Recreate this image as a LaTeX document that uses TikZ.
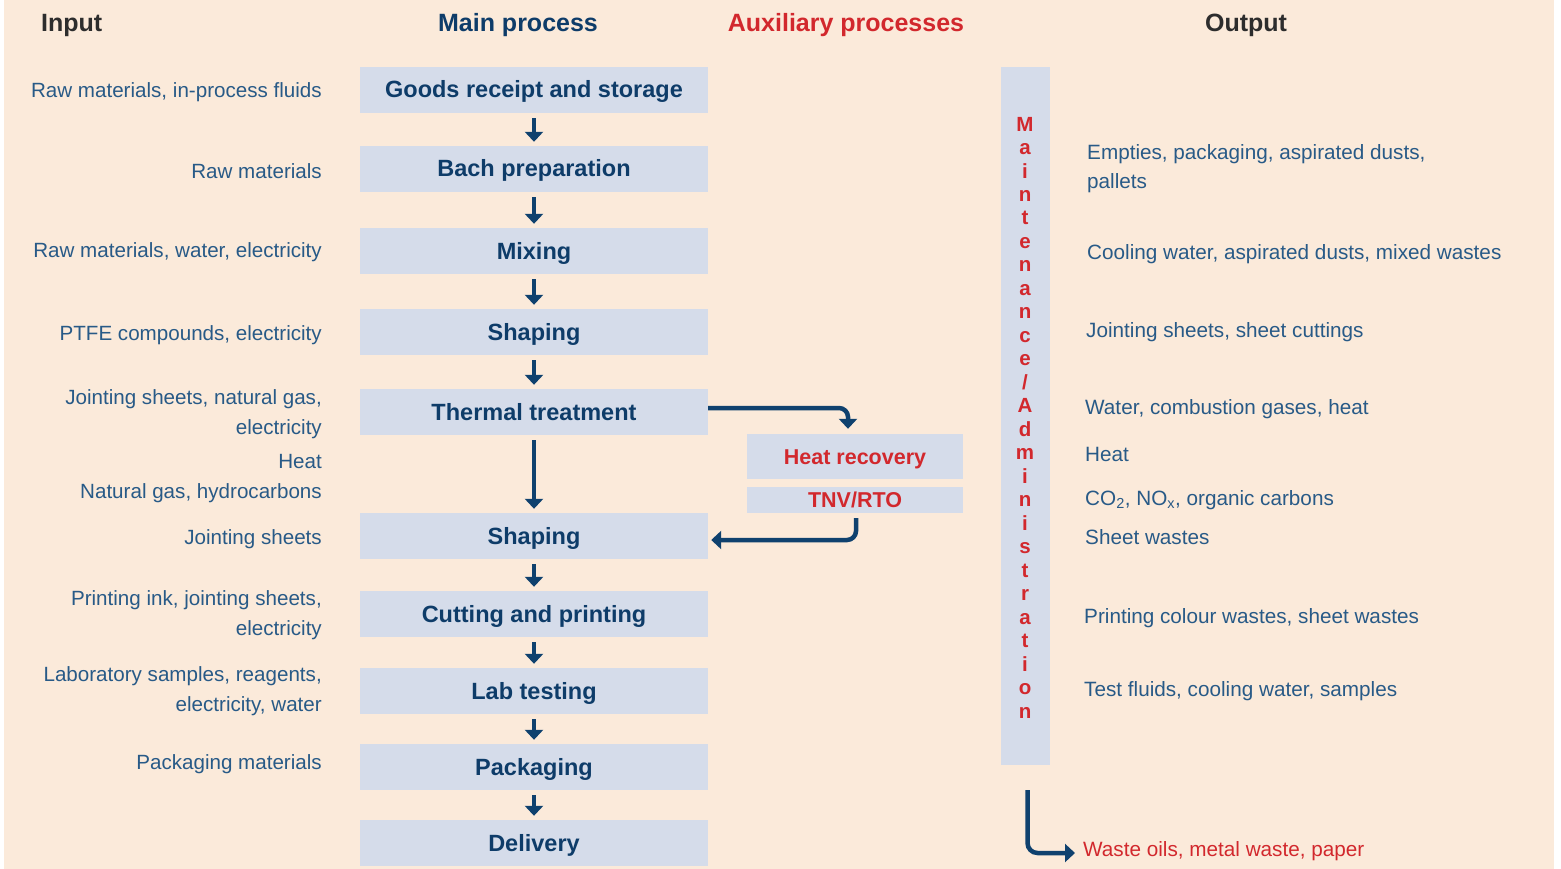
\documentclass[tikz,border=0pt]{standalone}
\usepackage{fontspec}
\setmainfont{Liberation Sans}
\usetikzlibrary{arrows.meta}
\definecolor{bg}{RGB}{251,234,218}
\definecolor{boxfill}{RGB}{213,220,234}
\definecolor{navy}{RGB}{14,60,105}
\definecolor{arrowc}{RGB}{15,65,110}
\definecolor{txtblue}{RGB}{40,90,135}
\definecolor{redc}{RGB}{210,40,45}
\definecolor{headgrey}{RGB}{45,45,45}
\tikzset{
  box/.style={fill=boxfill, minimum width=348pt, minimum height=46pt, inner sep=0pt,
    text height=17pt, text depth=1pt,
    font=\bfseries\fontsize{23.5}{26}\selectfont, text=navy},
  auxbox/.style={fill=boxfill, minimum width=216pt, inner sep=0pt,
    font=\bfseries\fontsize{21.5}{24}\selectfont, text=redc},
  flow/.style={draw=arrowc, line width=4.5pt, -{Triangle[width=18pt,length=10pt]}},
  intxt/.style={anchor=east, align=right, text=txtblue, font=\fontsize{20.6}{30}\selectfont, inner sep=0pt},
  outtxt/.style={anchor=west, align=left, text=txtblue, font=\fontsize{20.7}{29}\selectfont, inner sep=0pt},
  head/.style={font=\bfseries\fontsize{25}{28}\selectfont, inner sep=0pt}
}
\begin{document}
\begin{tikzpicture}[x=1pt,y=-1pt]
\useasboundingbox (0,0) rectangle (1561,869);
\fill[bg] (4,0) rectangle (1554,869);
% headings
\node[head, text=headgrey, anchor=west] (hin) at (41,25) {Input};
\node[head, text=navy] (hmain) at (518,25) {Main process};
\node[head, text=redc] (haux) at (846,25) {Auxiliary processes};
\node[head, text=headgrey] (hout) at (1246,25) {Output};
% main boxes
\node[box] (b1) at (534,90) {Goods receipt and storage};
\node[box] (b2) at (534,169) {Bach preparation};
\node[box] (b3) at (534,251) {Mixing};
\node[box] (b4) at (534,332) {Shaping};
\node[box] (b5) at (534,412) {Thermal treatment};
\node[box] (b6) at (534,536) {Shaping};
\node[box] (b7) at (534,614) {Cutting and printing};
\node[box] (b8) at (534,691) {Lab testing};
\node[box] (b9) at (534,767) {Packaging};
\node[box] (b10) at (534,843) {Delivery};
\foreach \a/\b in {b1/b2,b2/b3,b3/b4,b4/b5,b5/b6,b6/b7,b7/b8,b8/b9,b9/b10}
  \draw[flow] ([yshift=-5pt]\a.south) -- ([yshift=4pt]\b.north);
% auxiliary
\node[auxbox, minimum height=45pt, text height=15.5pt, text depth=0pt] (hr) at (855,456.5) {Heat recovery};
\node[auxbox, minimum height=26pt] (tnv) at (855,500) {TNV/RTO};
\draw[flow, rounded corners=9pt] ([yshift=4pt]b5.east) -| ([xshift=-7pt,yshift=5pt]hr.north);
\draw[flow, rounded corners=9pt] ([xshift=1pt,yshift=-5pt]tnv.south) |- ([xshift=3pt,yshift=-4pt]b6.east);
% maintenance column
\node[fill=boxfill, minimum width=49pt, minimum height=698pt, inner sep=0pt] (maint) at (1025.5,416) {};
\node[text=redc, font=\bfseries\fontsize{20.5}{23.48}\selectfont, align=center, inner sep=0pt] (mtxt) at (1025,417.5)
  {M\\a\\i\\n\\t\\e\\n\\a\\n\\c\\e\\/\\A\\d\\m\\i\\n\\i\\s\\t\\r\\a\\t\\i\\o\\n};
\node[anchor=west, text=redc, font=\fontsize{20.7}{24}\selectfont, inner sep=0pt] (waste) at (1083,851) {Waste oils, metal waste, paper};
\draw[flow, rounded corners=10pt] ([xshift=2pt,yshift=-25pt]maint.south) |- ([xshift=-8pt,yshift=-2pt]waste.west);
% inputs
\node[intxt] (i1) at (322,92) {Raw materials, in-process fluids};
\node[intxt] (i2) at (322,171) {Raw materials};
\node[intxt] (i3) at (322,252) {Raw materials, water, electricity};
\node[intxt] (i4) at (322,335) {PTFE compounds, electricity};
\node[intxt] (i5) at (322,414) {Jointing sheets, natural gas,\\electricity};
\node[intxt] (i6) at (322,479) {Heat\\Natural gas, hydrocarbons};
\node[intxt] (i7) at (322,539) {Jointing sheets};
\node[intxt] (i8) at (322,615) {Printing ink, jointing sheets,\\electricity};
\node[intxt] (i9) at (322,691) {Laboratory samples, reagents,\\electricity, water};
\node[intxt] (i10) at (322,764) {Packaging materials};
% outputs
\node[outtxt] (o1) at (1087,169) {Empties, packaging, aspirated dusts,\\pallets};
\node[outtxt] (o2) at (1087,254) {Cooling water, aspirated dusts, mixed wastes};
\node[outtxt] (o3) at (1086,332) {Jointing sheets, sheet cuttings};
\node[outtxt] (o4) at (1085,409) {Water, combustion gases, heat};
\node[outtxt] (o5) at (1085,454) {Heat};
\node[outtxt] (o6) at (1085,500) {CO\textsubscript{2}, NO\textsubscript{x}, organic carbons};
\node[outtxt] (o7) at (1085,537) {Sheet wastes};
\node[outtxt] (o8) at (1084,618) {Printing colour wastes, sheet wastes};
\node[outtxt] (o9) at (1084,691) {Test fluids, cooling water, samples};
\end{tikzpicture}
\end{document}
